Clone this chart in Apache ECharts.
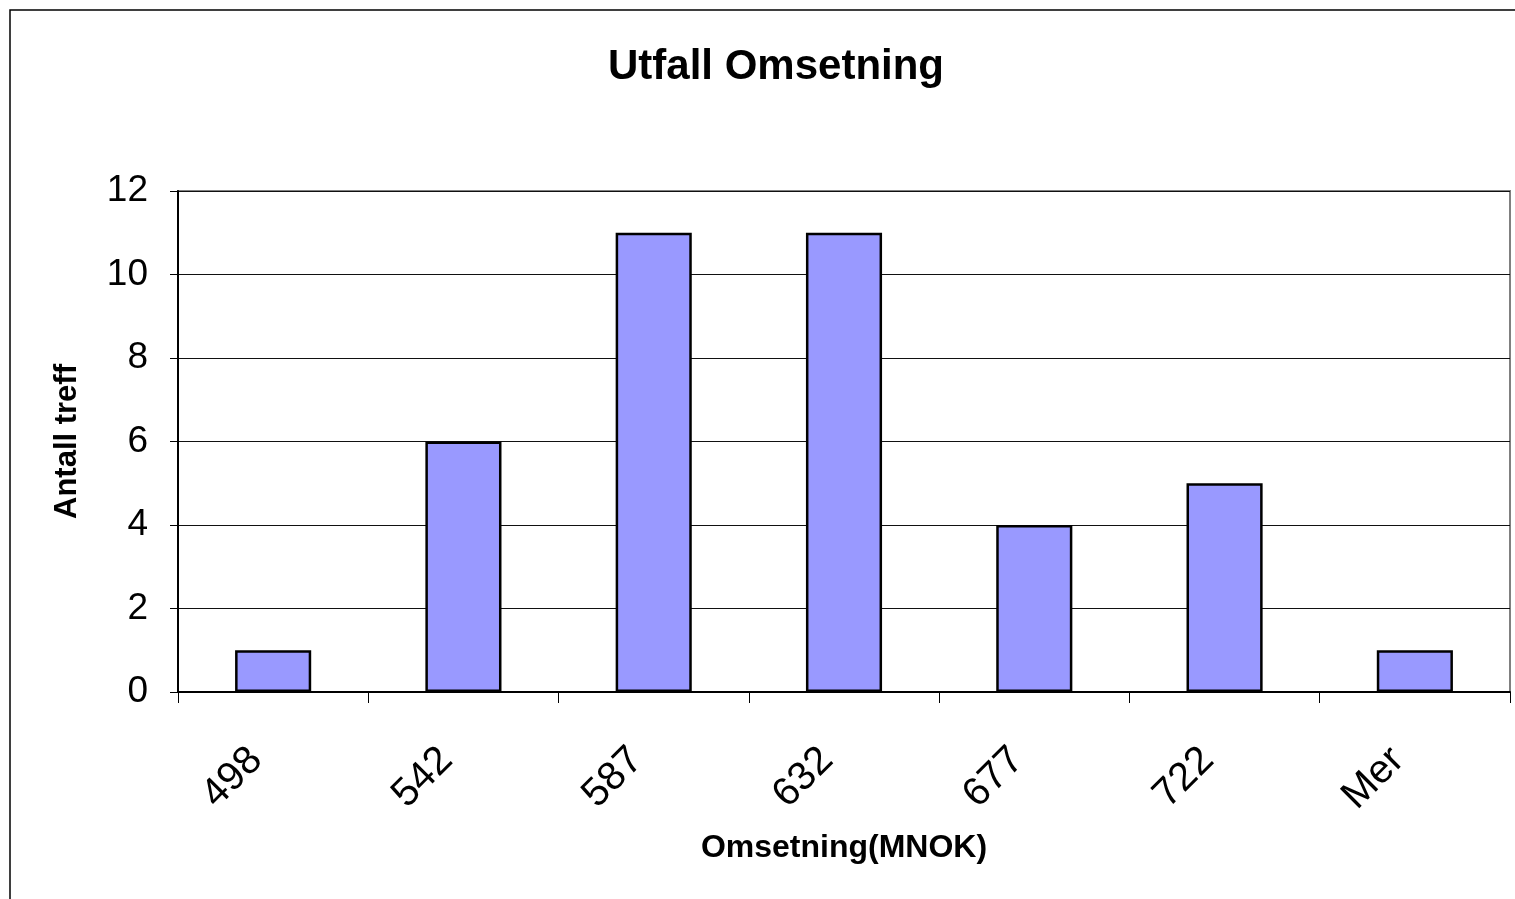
<!DOCTYPE html>
<html>
<head>
<meta charset="utf-8">
<style>
html,body{margin:0;padding:0;background:#fff;}
#chart{width:1515px;height:899px;}
</style>
<script src="https://cdn.jsdelivr.net/npm/echarts@6/dist/echarts.min.js"></script>
</head>
<body>
<div id="chart"></div>
<script>
const categories = ['498', '542', '587', '632', '677', '722', 'Mer'];
const counts = [1, 6, 11, 11, 4, 5, 1];
const yTicks = { min: 0, max: 12, interval: 2 };

const chart = echarts.init(document.getElementById('chart'), null, { renderer: 'canvas' });
const FONT = '"Liberation Sans", Arial, sans-serif';
chart.setOption({
  backgroundColor: '#ffffff',
  animation: false,
  graphic: [{
    type: 'rect',
    shape: { x: 10, y: 10, width: 1600, height: 1000 },
    style: { fill: 'none', stroke: '#000', lineWidth: 1.5 },
    silent: true
  }],
  title: {
    text: 'Utfall Omsetning',
    left: 771,
    top: 41,
    textAlign: 'center',
    textStyle: { fontFamily: FONT, fontSize: 42, fontWeight: 'bold', color: '#000' }
  },
  grid: {
    left: 178, right: 5, top: 191, bottom: 207,
    show: true, borderColor: '#808080', borderWidth: 2, backgroundColor: 'transparent'
  },
  xAxis: {
    type: 'category',
    data: categories,
    name: 'Omsetning(MNOK)',
    nameLocation: 'middle',
    nameGap: 140,
    nameTextStyle: { fontFamily: FONT, fontSize: 32, fontWeight: 'bold', color: '#000' },
    axisLine: { show: true, lineStyle: { color: '#000', width: 2 } },
    axisTick: { show: true, length: 11, alignWithLabel: false, lineStyle: { color: '#000', width: 1 } },
    axisLabel: { rotate: 45, margin: 45, padding: [0, 24, 0, 0], fontFamily: FONT, fontSize: 40, color: '#000' },
    splitLine: { show: false }
  },
  yAxis: {
    type: 'value',
    min: yTicks.min, max: yTicks.max, interval: yTicks.interval,
    name: 'Antall treff',
    nameLocation: 'middle',
    nameGap: 95,
    nameTextStyle: { fontFamily: FONT, fontSize: 31, fontWeight: 'bold', color: '#000' },
    axisLine: { show: true, lineStyle: { color: '#000', width: 2 } },
    axisTick: { show: true, length: 8, lineStyle: { color: '#000', width: 1 } },
    axisLabel: { margin: 30, fontFamily: FONT, fontSize: 37, color: '#000' },
    splitLine: { show: true, lineStyle: { color: '#111', width: 1 } }
  },
  series: [{
    type: 'bar',
    data: counts,
    barWidth: '40%',
    itemStyle: { color: '#9999FF', borderColor: '#000', borderWidth: 2.5 }
  }]
});
</script>
</body>
</html>
